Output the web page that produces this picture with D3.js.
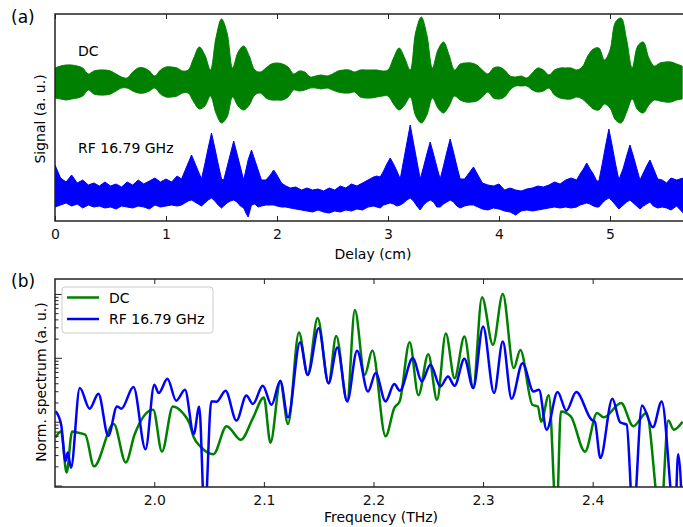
<!DOCTYPE html>
<html>
<head>
<meta charset="utf-8">
<script src="https://cdn.jsdelivr.net/npm/d3@7"></script>
<style>
  body { margin: 0; background: #fff; }
  svg { font-family: "DejaVu Sans", sans-serif; }
  .axis path { display: none; }
  .axis line { stroke: #222; stroke-width: 1; }
  .axis text { font-size: 14px; fill: #111; font-family: "DejaVu Sans", sans-serif; }
</style>
</head>
<body>
<div id="chart"></div>
<script>
//Width and height
var w = 683;
var h = 527;

//---- Panel (a) data: envelope of the dense traces ----
//Delay (cm)
var dcDelay = [0.00,0.05,0.10,0.15,0.20,0.25,0.30,0.35,0.40,0.45,0.50,0.55,0.60,0.65,0.70,0.75,0.80,0.85,0.90,0.95,
  1.00,1.05,1.10,1.15,1.20,1.25,1.30,1.35,1.40,1.45,1.50,1.55,1.60,1.65,1.70,1.75,1.80,1.85,1.90,1.95,
  2.00,2.05,2.10,2.15,2.20,2.25,2.30,2.35,2.40,2.45,2.50,2.55,2.60,2.65,2.70,2.75,2.80,2.85,2.90,2.95,
  3.00,3.05,3.10,3.15,3.20,3.25,3.30,3.35,3.40,3.45,3.50,3.55,3.60,3.65,3.70,3.75,3.80,3.85,3.90,3.95,
  4.00,4.05,4.10,4.15,4.20,4.25,4.30,4.35,4.40,4.45,4.50,4.55,4.60,4.65,4.70,4.75,4.80,4.85,4.90,4.95,
  5.00,5.05,5.10,5.15,5.20,5.25,5.30,5.35,5.40,5.45,5.50,5.55,5.60,5.65];
//DC signal, upper and lower edge (a. u.)
var dcHigh = [153,155,156,156,155,153,147,150,151,151,150,147,144,143,149,153,153,150,145,151,
  154,154,153,150,151,163,174,166,151,183,202,188,153,169,175,165,151,149,153,157,
  158,157,154,147,150,149,144,145,146,145,147,150,151,151,149,151,151,151,151,150,
  151,163,173,163,151,189,204,186,153,171,179,166,151,157,158,158,156,151,147,153,
  154,151,145,144,145,143,148,153,151,146,151,153,153,153,151,154,165,172,173,161,
  171,199,203,181,153,175,179,163,155,158,159,159,157,155];
var dcLow = [123,122,121,122,123,125,131,127,126,126,127,130,133,133,130,128,128,130,133,127,
  124,124,125,128,128,119,112,115,125,108,98,104,124,115,111,116,126,128,123,121,
  121,121,124,131,130,131,133,133,132,133,131,129,128,128,129,124,123,123,124,125,
  125,117,111,116,124,105,98,106,123,113,108,115,125,121,119,119,120,124,129,123,
  122,124,131,135,135,135,131,129,130,133,126,123,122,122,124,122,117,112,111,117,
  113,101,98,109,122,111,108,116,121,120,119,119,121,122];

//RF 16.79 GHz signal
var rfDelay = [0.00,0.05,0.10,0.15,0.20,0.25,0.30,0.35,0.40,0.45,0.50,0.55,0.60,0.65,0.70,0.75,0.80,0.85,0.90,0.95,
  1.00,1.05,1.10,1.14,1.17,1.20,1.23,1.26,1.29,1.32,1.35,1.38,1.41,1.44,1.47,1.50,1.52,1.55,1.58,1.61,
  1.64,1.67,1.70,1.72,1.74,1.77,1.80,1.83,1.86,1.90,1.94,1.97,2.00,2.04,2.08,2.12,2.17,2.22,2.27,2.32,
  2.37,2.42,2.47,2.52,2.57,2.62,2.67,2.72,2.77,2.82,2.87,2.90,2.93,2.96,2.99,3.02,3.05,3.08,3.11,3.14,
  3.17,3.20,3.23,3.26,3.29,3.32,3.35,3.38,3.41,3.44,3.47,3.50,3.53,3.56,3.59,3.62,3.65,3.69,3.73,3.77,
  3.81,3.85,3.90,3.95,4.00,4.05,4.10,4.15,4.20,4.25,4.30,4.35,4.40,4.45,4.50,4.55,4.60,4.65,4.70,4.73,
  4.76,4.79,4.82,4.85,4.88,4.90,4.93,4.96,4.99,5.02,5.05,5.08,5.12,5.15,5.18,5.21,5.24,5.27,5.30,5.33,
  5.36,5.39,5.43,5.47,5.51,5.55,5.60,5.66];
var rfHigh = [56,43,39,46,38,41,36,38,35,39,35,37,34,39,36,41,37,40,43,39,
  42,39,45,42,50,58,66,58,50,42,57,73,88,73,57,42,41,54,67,80,
  67,54,41,51,61,71,61,51,41,41,46,51,46,38,35,33,34,31,33,31,
  32,30,33,31,35,33,37,35,38,41,44,45,44,50,57,63,57,50,42,60,
  78,96,78,60,42,54,67,79,67,54,42,55,69,82,69,55,42,42,48,54,
  46,38,36,35,37,31,33,31,30,32,33,35,34,36,39,37,41,43,41,47,
  52,58,52,47,40,40,57,75,92,75,57,41,53,65,76,65,53,41,48,55,
  61,53,42,41,38,43,41,43];
var rfLow = [14,16,18,15,17,13,16,14,15,13,14,12,15,14,13,15,14,12,16,14,
  15,16,15,16,18,20,21,19,17,15,18,21,23,20,16,13,15,18,20,21,
  19,15,13,8,4,16,17,14,15,16,16,16,15,14,14,13,12,11,10,9,
  11,9,8,10,9,11,10,12,11,14,15,14,13,16,17,18,17,15,16,18,
  21,23,20,15,11,16,19,21,19,14,14,17,19,21,19,15,13,15,16,16,
  14,12,11,13,12,10,9,6,10,11,10,11,12,13,14,13,14,13,14,16,
  17,18,17,15,14,14,18,21,23,20,16,12,16,19,21,18,15,12,15,17,
  19,15,13,14,13,11,15,8];

//---- Panel (b) data: normalised spectra ----
var dcFreq = [1.910,1.915,1.920,1.925,1.931,1.937,1.945,1.963,1.974,1.982,1.999,2.007,2.017,2.026,2.032,2.036,2.042,2.054,2.066,2.079,
  2.090,2.100,2.106,2.115,2.122,2.132,2.140,2.149,2.159,2.166,2.176,2.183,2.192,2.199,2.211,2.219,2.224,2.233,2.241,2.250,
  2.258,2.266,2.274,2.283,2.291,2.299,2.309,2.318,2.328,2.334,2.345,2.350,2.353,2.360,2.367,2.371,2.380,2.393,2.404,2.410,
  2.426,2.437,2.449,2.462,2.469,2.474,2.482];
var dcSpec = [0.0057,0.0070,0.0016,0.0070,0.0067,0.0063,0.0020,0.0092,0.0023,0.0063,0.0154,0.0034,0.0173,0.0137,0.0095,0.0057,0.0041,0.0031,0.0085,0.0052,
  0.0114,0.024,0.0047,0.042,0.0092,0.25,0.054,0.42,0.040,0.22,0.021,0.56,0.054,0.13,0.0059,0.0164,0.021,0.176,0.026,0.114,
  0.022,0.24,0.048,0.215,0.034,0.89,0.16,1.0,0.069,0.133,0.0184,0.0173,0.010,0.026,0.0003,0.0145,0.0121,0.0034,0.0137,0.0117,
  0.0196,0.0085,0.0137,0.0003,0.0104,0.0075,0.010];

var rfFreq = [1.910,1.915,1.919,1.921,1.924,1.932,1.941,1.949,1.958,1.966,1.970,1.981,1.992,2.000,2.004,2.012,2.020,2.028,2.036,2.041,
  2.046,2.052,2.057,2.065,2.075,2.084,2.090,2.099,2.107,2.115,2.122,2.133,2.140,2.150,2.159,2.167,2.176,2.185,2.195,2.202,
  2.211,2.219,2.224,2.236,2.244,2.252,2.261,2.268,2.274,2.283,2.291,2.300,2.310,2.318,2.326,2.336,2.346,2.351,2.358,2.368,
  2.376,2.385,2.399,2.402,2.407,2.418,2.425,2.431,2.437,2.445,2.455,2.463,2.475,2.478,2.482];
var rfSpec = [0.0145,0.0090,0.0024,0.0033,0.0019,0.0336,0.016,0.0274,0.0060,0.0173,0.016,0.0348,0.0037,0.0379,0.0281,0.047,0.0213,0.0316,0.0064,0.0172,
  0.0003,0.0208,0.0206,0.0305,0.0104,0.0258,0.0189,0.0365,0.0184,0.0437,0.0117,0.176,0.054,0.291,0.040,0.145,0.0208,0.129,0.0297,0.0577,
  0.0208,0.0388,0.0305,0.099,0.0426,0.078,0.0356,0.051,0.0365,0.0965,0.0336,0.308,0.0281,0.18,0.0229,0.0826,0.0297,0.0316,0.0075,0.0291,
  0.0149,0.0291,0.0107,0.010,0.0027,0.0229,0.0098,0.009,0.0003,0.018,0.0082,0.0208,0.0003,0.0031,0.0003];

//Tick values
var delayTicks = [0, 1, 2, 3, 4, 5];
var freqTicks = [2.0, 2.1, 2.2, 2.3, 2.4];

var green = "#008000";
var blue = "#0000ff";

//Create SVG element
var svg = d3.select("#chart")
  .append("svg")
  .attr("width", w)
  .attr("height", h);

//================= Panel (a) =================
var a = { left: 55, top: 14, bottom: 221, right: 687.7 };

var xA = d3.scaleLinear().domain([0, 5.7]).range([a.left, a.right]);
var yA = d3.scaleLinear().domain([0, 207]).range([a.bottom, a.top]);

svg.append("clipPath").attr("id", "clipA")
  .append("rect")
  .attr("x", a.left).attr("y", a.top)
  .attr("width", a.right - a.left).attr("height", a.bottom - a.top);

var dcRows = dcDelay.map(function(d, i){ return { d: d, hi: dcHigh[i], lo: dcLow[i] }; });
var rfRows = rfDelay.map(function(d, i){ return { d: d, hi: rfHigh[i], lo: rfLow[i] }; });

var dcBand = d3.area()
  .x(function(d){ return xA(d.d); })
  .y0(function(d){ return yA(d.lo); })
  .y1(function(d){ return yA(d.hi); })
  .curve(d3.curveCatmullRom);

var rfBand = d3.area()
  .x(function(d){ return xA(d.d); })
  .y0(function(d){ return yA(d.lo); })
  .y1(function(d){ return yA(d.hi); })
  .curve(d3.curveLinear);

var gA = svg.append("g").attr("clip-path", "url(#clipA)");

gA.append("path")
  .datum(dcRows)
  .attr("d", dcBand)
  .attr("fill", green)
  .attr("stroke", green)
  .attr("stroke-width", 1);

gA.append("path")
  .datum(rfRows)
  .attr("d", rfBand)
  .attr("fill", blue)
  .attr("stroke", blue)
  .attr("stroke-width", 1);

//Axes (ticks pointing in, top and bottom)
svg.append("g")
  .attr("class", "axis")
  .attr("transform", "translate(0," + a.bottom + ")")
  .call(d3.axisBottom(xA).tickValues(delayTicks).tickFormat(d3.format("d"))
    .tickSizeInner(-5).tickSizeOuter(0).tickPadding(8));

svg.append("g")
  .attr("class", "axis")
  .attr("transform", "translate(0," + a.top + ")")
  .call(d3.axisTop(xA).tickValues(delayTicks).tickSizeInner(-5).tickSizeOuter(0).tickFormat(""));

svg.append("rect")
  .attr("x", a.left).attr("y", a.top)
  .attr("width", a.right - a.left).attr("height", a.bottom - a.top)
  .attr("fill", "none").attr("stroke", "#222").attr("stroke-width", 1.5);

svg.append("text").attr("x", 78).attr("y", 56).attr("font-size", 14).text("DC");
svg.append("text").attr("x", 78).attr("y", 153).attr("font-size", 14).text("RF 16.79 GHz");

svg.append("text")
  .attr("transform", "translate(45,119) rotate(-90)")
  .attr("text-anchor", "middle").attr("font-size", 14)
  .text("Signal (a. u.)");

svg.append("text")
  .attr("x", 373).attr("y", 259)
  .attr("text-anchor", "middle").attr("font-size", 14)
  .text("Delay (cm)");

svg.append("text").attr("x", 11).attr("y", 23).attr("font-size", 17).text("(a)");

//================= Panel (b) =================
var b = { left: 55, top: 279, bottom: 487, right: 691.3 };

var xB = d3.scaleLinear().domain([1.9094, 2.49]).range([b.left, b.right]);
var yB = d3.scaleLog().domain([0.00095, 1.714]).range([b.bottom, b.top]);

svg.append("clipPath").attr("id", "clipB")
  .append("rect")
  .attr("x", b.left).attr("y", b.top)
  .attr("width", b.right - b.left).attr("height", b.bottom - b.top);

var spectrumLine = d3.line()
  .x(function(d){ return xB(d.f); })
  .y(function(d){ return yB(d.v); })
  .curve(d3.curveMonotoneX);

var dcSeries = dcFreq.map(function(f, i){ return { f: f, v: dcSpec[i] }; });
var rfSeries = rfFreq.map(function(f, i){ return { f: f, v: rfSpec[i] }; });

var gB = svg.append("g").attr("clip-path", "url(#clipB)");

gB.append("path")
  .datum(dcSeries)
  .attr("d", spectrumLine)
  .attr("fill", "none").attr("stroke", green).attr("stroke-width", 2.5)
  .attr("stroke-linejoin", "round");

gB.append("path")
  .datum(rfSeries)
  .attr("d", spectrumLine)
  .attr("fill", "none").attr("stroke", blue).attr("stroke-width", 2.5)
  .attr("stroke-linejoin", "round");

svg.append("g")
  .attr("class", "axis")
  .attr("transform", "translate(0," + b.bottom + ")")
  .call(d3.axisBottom(xB).tickValues(freqTicks).tickFormat(d3.format(".1f"))
    .tickSizeInner(-5).tickSizeOuter(0).tickPadding(8));

svg.append("g")
  .attr("class", "axis")
  .attr("transform", "translate(0," + b.top + ")")
  .call(d3.axisTop(xB).tickValues(freqTicks).tickSizeInner(-5).tickSizeOuter(0).tickFormat(""));

//Log ticks on y, no labels
var logTicks = yB.ticks().filter(function(t){ return t >= 0.00095 && t <= 1.714; });
var majorTicks = logTicks.filter(function(t){ return Math.abs(Math.log10(t) - Math.round(Math.log10(t))) < 1e-9; });
var minorTicks = logTicks.filter(function(t){ return majorTicks.indexOf(t) == -1; });

svg.append("g")
  .attr("class", "axis")
  .attr("transform", "translate(" + b.left + ",0)")
  .call(d3.axisLeft(yB).tickValues(majorTicks).tickSizeInner(-7).tickSizeOuter(0).tickFormat(""));

svg.append("g")
  .attr("class", "axis")
  .attr("transform", "translate(" + b.left + ",0)")
  .call(d3.axisLeft(yB).tickValues(minorTicks).tickSizeInner(-3.5).tickSizeOuter(0).tickFormat(""));

svg.append("rect")
  .attr("x", b.left).attr("y", b.top)
  .attr("width", b.right - b.left).attr("height", b.bottom - b.top)
  .attr("fill", "none").attr("stroke", "#222").attr("stroke-width", 1.5);

//Legend
var legend = svg.append("g");
legend.append("rect")
  .attr("x", 62).attr("y", 287).attr("width", 151).attr("height", 46)
  .attr("rx", 3)
  .attr("fill", "#fff").attr("fill-opacity", 0.85)
  .attr("stroke", "#ccc").attr("stroke-width", 1);

var legendItems = [
  { label: "DC", color: green, y: 297.5 },
  { label: "RF 16.79 GHz", color: blue, y: 319 }
];

legendItems.forEach(function(item){
  legend.append("line")
    .attr("x1", 67).attr("x2", 99)
    .attr("y1", item.y).attr("y2", item.y)
    .attr("stroke", item.color).attr("stroke-width", 2.5);
  legend.append("text")
    .attr("x", 109).attr("y", item.y + 5)
    .attr("font-size", 14)
    .text(item.label);
});

svg.append("text")
  .attr("transform", "translate(46,382) rotate(-90)")
  .attr("text-anchor", "middle").attr("font-size", 14)
  .text("Norm. spectrum (a. u.)");

svg.append("text")
  .attr("x", 381).attr("y", 522)
  .attr("text-anchor", "middle").attr("font-size", 14)
  .text("Frequency (THz)");

svg.append("text").attr("x", 11).attr("y", 287).attr("font-size", 17).text("(b)");
</script>
</body>
</html>
